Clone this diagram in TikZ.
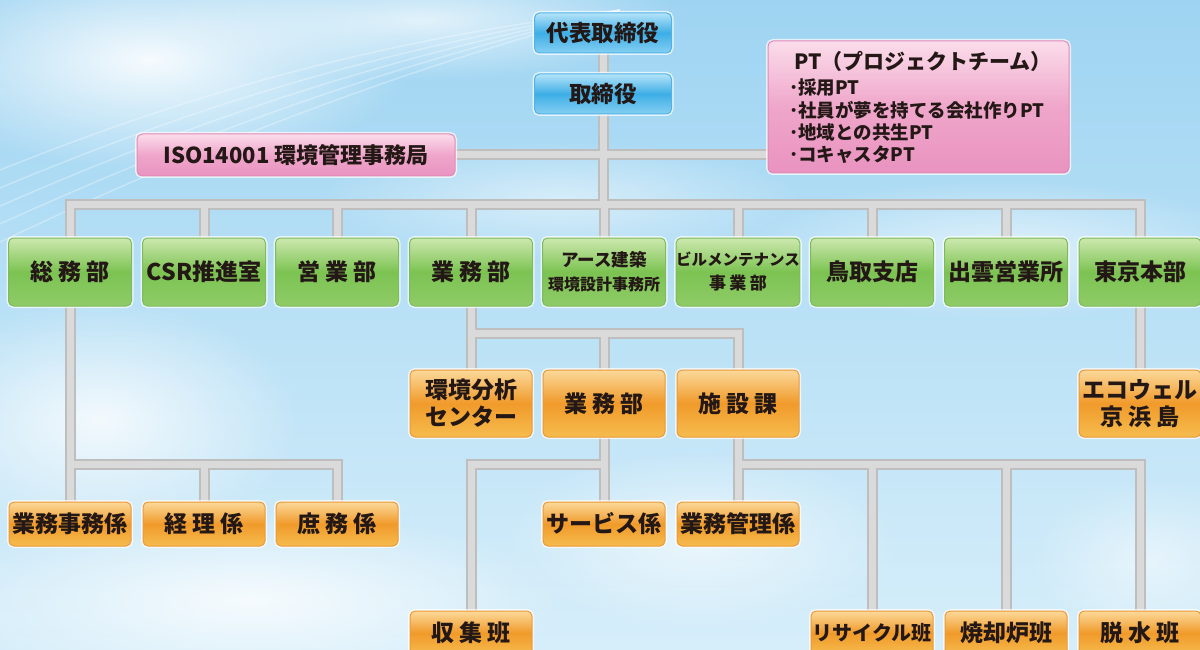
\documentclass[tikz,border=0pt]{standalone}
\usepackage{fontspec}
\setmainfont{Noto Sans CJK JP}
\usetikzlibrary{calc,fadings}
\tikzfading[name=softcloud, inner color=transparent!0, outer color=transparent!100]
\definecolor{txt}{HTML}{231815}
\definecolor{blT}{HTML}{B4E3F8}
\definecolor{blM}{HTML}{3DAEE6}
\definecolor{blB}{HTML}{86CFF2}
\definecolor{blD}{HTML}{4FB3E6}
\definecolor{grT}{HTML}{CDE8AE}
\definecolor{grM}{HTML}{7CC352}
\definecolor{grB}{HTML}{8FCB68}
\definecolor{grD}{HTML}{7DBB5C}
\definecolor{orT}{HTML}{FCD99A}
\definecolor{orM}{HTML}{F09A2A}
\definecolor{orB}{HTML}{F6BC4E}
\definecolor{orD}{HTML}{EC9A36}
\definecolor{pkT}{HTML}{FBDDEB}
\definecolor{pkM}{HTML}{EFA6CA}
\definecolor{pkB}{HTML}{E993C0}
\definecolor{pkD}{HTML}{E487B6}
\definecolor{skyT}{HTML}{9ED4F2}
\definecolor{skyB}{HTML}{D6EEFA}
\definecolor{barO}{HTML}{BEBEBE}
\definecolor{barI}{HTML}{DADADA}
\pgfdeclarelayer{sky}\pgfdeclarelayer{lines}\pgfsetlayers{sky,lines,main}
\newcommand{\jsp}{\hspace{.2em}}
\begin{document}
\begin{tikzpicture}[x=1pt,y=-1pt,
 box/.style={rounded corners=5pt, line width=1pt, text=txt, align=center, inner sep=0pt,
   font=\bfseries\fontsize{23}{27}\selectfont,
   preaction={draw=white, line width=4pt, opacity=0.7}},
 bluebox/.style={box, minimum width=137pt, minimum height=40pt, draw=blD,
   top color=blT, bottom color=blB, middle color=blM,
   font=\bfseries\fontsize{22.5}{26}\selectfont},
 pinkbox/.style={box, draw=pkD, top color=pkT, bottom color=pkB, middle color=pkM},
 greenbox/.style={box, minimum width=123pt, minimum height=68pt, draw=grD,
   top color=grT, bottom color=grB, middle color=grM},
 orangebox/.style={box, minimum width=122pt, draw=orD,
   top color=orT, bottom color=orB, middle color=orM},
 tallorange/.style={orangebox, minimum height=67pt},
 loworange/.style={orangebox, minimum height=44pt},
 cloud/.style={fill=white, path fading=softcloud, fill opacity=#1},
 bar/.style={line cap=rect, line join=miter}
]
\useasboundingbox (0,0) rectangle (1200,650);

% ---------- sky ----------
\begin{pgfonlayer}{sky}
\fill[top color=skyT, bottom color=skyB] (0,0) rectangle (1200,650);
\fill[cloud=0.9] (150,60) ellipse (260 and 110);
\fill[cloud=0.7] (420,20) ellipse (260 and 60);
\fill[cloud=0.8] (100,420) ellipse (200 and 120);
\fill[cloud=0.8] (250,600) ellipse (320 and 90);
\fill[cloud=0.6] (700,540) ellipse (200 and 90);
\fill[cloud=0.6] (1000,250) ellipse (260 and 70);
\fill[cloud=0.5] (560,200) ellipse (240 and 60);
\fill[cloud=0.5] (1150,560) ellipse (120 and 80);
\foreach \a in {0,18,36,54,72}{
  \draw[white, opacity=0.3, line width=1.5pt]
    (0,170+\a) .. controls (200,90+\a*0.8) and (380,40+\a/2) .. (620,10);
}
\end{pgfonlayer}

% ---------- nodes ----------
\node[bluebox] (top) at (603,33) {代表取締役};
\node[bluebox] (ceo) at (603,94) {取締役};

\node[pinkbox, minimum width=318pt, minimum height=42pt,
  font=\bfseries\fontsize{22}{26}\selectfont] (iso) at (296,155) {ISO14001 環境管理事務局};
\node[pinkbox, minimum width=301pt, minimum height=132pt] (pt) at (918.5,107) {};
\node[inner sep=0pt, text=txt, font=\bfseries\fontsize{21}{24}\selectfont] (ptt) at (923,61)
  {PT（プロジェクトチーム）};
\node[inner sep=0pt, text=txt, anchor=north west, align=left,
  font=\bfseries\fontsize{18.5}{22.3}\selectfont] (ptl) at (789,79)
  {･採用PT\\･社員が夢を持てる会社作りPT\\･地域との共生PT\\･コキャスタPT};

\node[greenbox] (g1) at (70,272) {総\jsp 務\jsp 部};
\node[greenbox] (g2) at (204,272) {CSR推進室};
\node[greenbox] (g3) at (337,272) {営\jsp 業\jsp 部};
\node[greenbox] (g4) at (471,272) {業\jsp 務\jsp 部};
\node[greenbox, font=\bfseries\fontsize{17.5}{24}\selectfont] (g5) at (604,272)
  {アース建築\\{\fontsize{16}{24}\selectfont 環境設計事務所}};
\node[greenbox, font=\bfseries\fontsize{15.5}{24}\selectfont] (g6) at (738,272)
  {ビルメンテナンス\\{\fontsize{17}{24}\selectfont 事\jsp 業\jsp 部}};
\node[greenbox] (g7) at (872,272) {鳥取支店};
\node[greenbox] (g8) at (1006,272) {出雲営業所};
\node[greenbox, minimum width=122pt] (g9) at (1140,272) {東京本部};

\node[tallorange] (o1) at (471,403.5) {環境分析\\センター};
\node[tallorange] (o2) at (604,403.5) {業\jsp 務\jsp 部};
\node[tallorange] (o3) at (738,403.5) {施\jsp 設\jsp 課};
\node[tallorange] (eco) at (1140,403.5) {エコウェル\\京\jsp 浜\jsp 島};

\node[loworange] (s1) at (70,524) {業務事務係};
\node[loworange] (s2) at (204,524) {経\jsp 理\jsp 係};
\node[loworange] (s3) at (337,524) {庶\jsp 務\jsp 係};
\node[loworange] (s4) at (604,524) {サービス係};
\node[loworange] (s5) at (738,524) {業務管理係};

\node[loworange] (w1) at (471,633) {収\jsp 集\jsp 班};
\node[loworange, font=\bfseries\fontsize{20}{24}\selectfont] (w2) at (872,633) {リサイクル班};
\node[loworange] (w3) at (1006,633) {焼却炉班};
\node[loworange] (w4) at (1140,633) {脱\jsp 水\jsp 班};

\coordinate (b1) at (603,204);
\coordinate (b2) at (603,333);
\coordinate (b3) at (603,464);

% ---------- connectors ----------
\begin{pgfonlayer}{lines}
\foreach \w/\c in {11/barO, 7/barI}{
  \draw[bar, line width=\w pt, color=\c]
    (top.south) -- (ceo.north)
    (ceo.south) -- (b1)
    (iso.east) -- (iso.east -| pt.west)
    (b1 -| g1.north) -- (b1 -| g9.north)
    (b1 -| g1.north) -- (g1.north)
    (b1 -| g2.north) -- (g2.north)
    (b1 -| g3.north) -- (g3.north)
    (b1 -| g4.north) -- (g4.north)
    (b1 -| g5.north) -- (g5.north)
    (b1 -| g6.north) -- (g6.north)
    (b1 -| g7.north) -- (g7.north)
    (b1 -| g8.north) -- (g8.north)
    (b1 -| g9.north) -- (g9.north)
    (g4.south) -- (b2 -| g4.south)
    (b2 -| o1.north) -- (b2 -| o3.north)
    (b2 -| o1.north) -- (o1.north)
    (b2 -| o2.north) -- (o2.north)
    (b2 -| o3.north) -- (o3.north)
    (g9.south) -- (eco.north)
    (g1.south) -- (s1.north)
    (b3 -| s1.north) -- (b3 -| s3.north)
    (b3 -| s2.north) -- (s2.north)
    (b3 -| s3.north) -- (s3.north)
    (o2.south) -- (s4.north)
    (b3 -| w1.north) -- (b3 -| s4.north)
    (b3 -| w1.north) -- (w1.north)
    (o3.south) -- (s5.north)
    (b3 -| s5.north) -- (b3 -| w4.north)
    (b3 -| w2.north) -- (w2.north)
    (b3 -| w3.north) -- (w3.north)
    (b3 -| w4.north) -- (w4.north);
}
\end{pgfonlayer}
\end{tikzpicture}
\end{document}
